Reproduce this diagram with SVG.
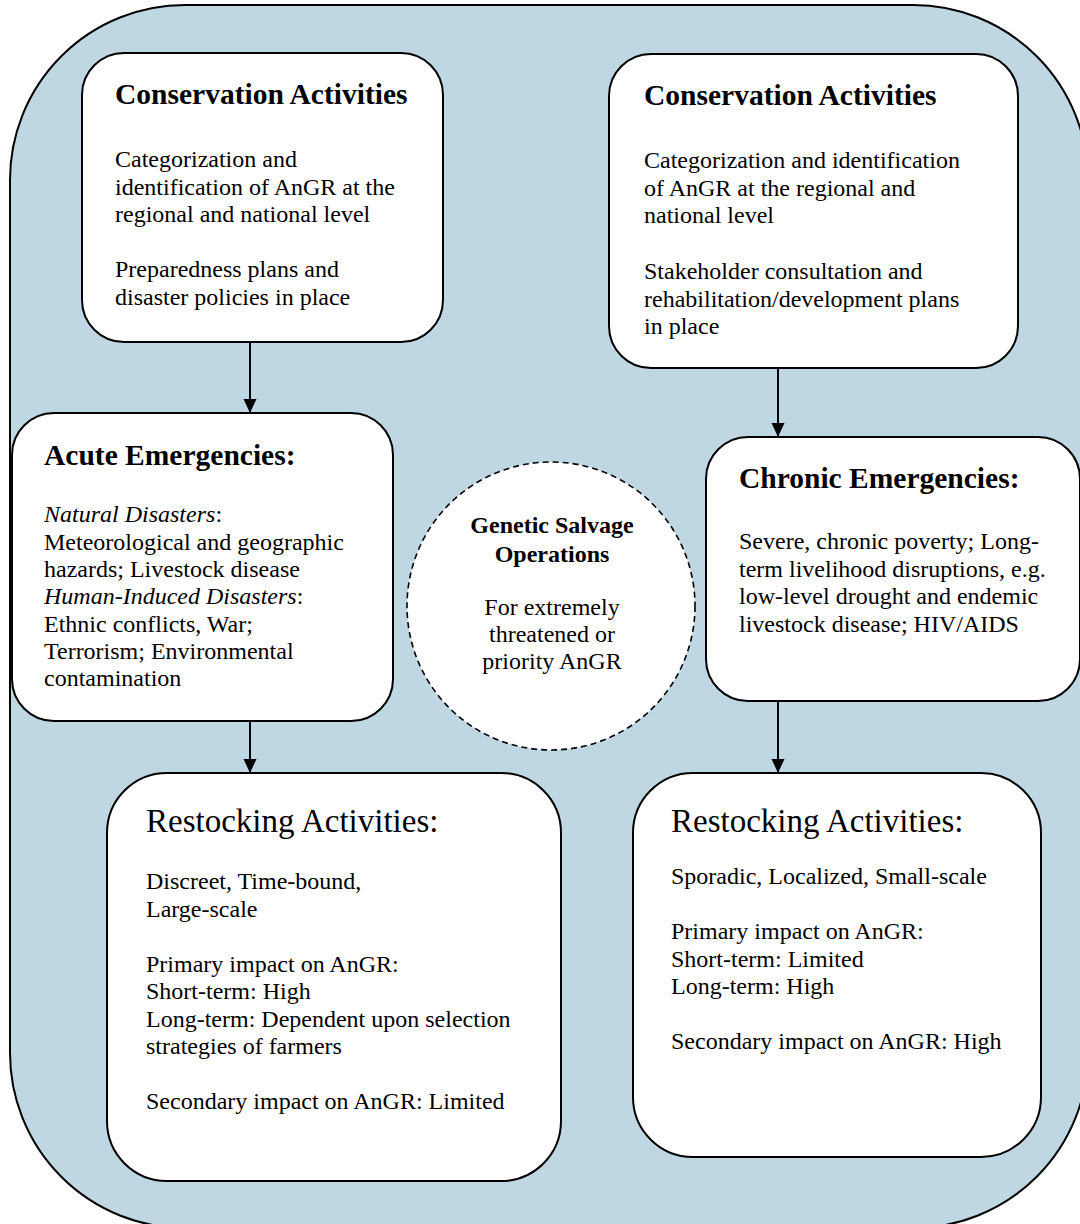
<svg xmlns="http://www.w3.org/2000/svg" width="1080" height="1224" viewBox="0 0 1080 1224">
  <defs>
    <style>
      text { font-family: "Liberation Serif", "Times New Roman", serif; fill: #000; }
      .frame { fill: #bfd7e2; stroke: #000; stroke-width: 2; }
      .box { fill: #fff; stroke: #000; stroke-width: 2; }
      .salvage { fill: #fff; stroke: #000; stroke-width: 1.6; stroke-dasharray: 6 4; }
      .head { font-size: 29.5px; font-weight: bold; }
      .head2 { font-size: 33px; }
      .body { font-size: 24px; }
      .bold { font-weight: bold; }
      .link { stroke: #000; stroke-width: 2; fill: none; marker-end: url(#arrow); }
    </style>
    <marker id="arrow" viewBox="0 0 14 14" refX="14" refY="7" markerWidth="14" markerHeight="14" markerUnits="userSpaceOnUse" orient="auto">
      <path d="M0,0.5 L14,7 L0,13.5 Z" fill="#000"/>
    </marker>
  </defs>

  <!-- background frame -->
  <rect class="frame" x="10" y="5" width="1078" height="1223" rx="175" ry="175"/>

  <!-- connectors -->
  <g id="connectors">
    <line class="link" x1="250" y1="342" x2="250" y2="413"/>
    <line class="link" x1="778" y1="368" x2="778" y2="437"/>
    <line class="link" x1="250" y1="721" x2="250" y2="773"/>
    <line class="link" x1="778" y1="701" x2="778" y2="773"/>
  </g>

  <g id="conservation-left">
    <rect class="box" x="82" y="53" width="361" height="289" rx="42" ry="42"/>
    <text class="head" x="115" y="104">Conservation Activities</text>
    <text class="body" x="115" y="167">Categorization and</text>
    <text class="body" x="115" y="194.5">identification of AnGR at the</text>
    <text class="body" x="115" y="222">regional and national level</text>
    <text class="body" x="115" y="277">Preparedness plans and</text>
    <text class="body" x="115" y="304.5">disaster policies in place</text>
  </g>

  <g id="conservation-right">
    <rect class="box" x="609" y="54" width="409" height="314" rx="42" ry="42"/>
    <text class="head" x="644" y="105">Conservation Activities</text>
    <text class="body" x="644" y="168">Categorization and identification</text>
    <text class="body" x="644" y="195.5">of AnGR at the regional and</text>
    <text class="body" x="644" y="223">national level</text>
    <text class="body" x="644" y="279">Stakeholder consultation and</text>
    <text class="body" x="644" y="306.5">rehabilitation/development plans</text>
    <text class="body" x="644" y="334">in place</text>
  </g>

  <g id="acute-emergencies">
    <rect class="box" x="12" y="413" width="381" height="308" rx="42" ry="42"/>
    <text class="head" x="44" y="465">Acute Emergencies:</text>
    <text class="body" x="44" y="522"><tspan font-style="italic">Natural Disasters</tspan>:</text>
    <text class="body" x="44" y="549.5">Meteorological and geographic</text>
    <text class="body" x="44" y="577">hazards; Livestock disease</text>
    <text class="body" x="44" y="604"><tspan font-style="italic">Human-Induced Disasters</tspan>:</text>
    <text class="body" x="44" y="631.5">Ethnic conflicts, War;</text>
    <text class="body" x="44" y="659">Terrorism; Environmental</text>
    <text class="body" x="44" y="686">contamination</text>
  </g>

  <g id="chronic-emergencies">
    <rect class="box" x="706" y="437" width="374" height="264" rx="42" ry="42"/>
    <text class="head" x="739" y="488">Chronic Emergencies:</text>
    <text class="body" x="739" y="549">Severe, chronic poverty; Long-</text>
    <text class="body" x="739" y="577">term livelihood disruptions, e.g.</text>
    <text class="body" x="739" y="604">low-level drought and endemic</text>
    <text class="body" x="739" y="632">livestock disease; HIV/AIDS</text>
  </g>

  <g id="genetic-salvage">
    <circle class="salvage" cx="551" cy="606" r="144"/>
    <text class="body bold" x="552" y="533" text-anchor="middle">Genetic Salvage</text>
    <text class="body bold" x="552" y="562" text-anchor="middle">Operations</text>
    <text class="body" x="552" y="615" text-anchor="middle">For extremely</text>
    <text class="body" x="552" y="642" text-anchor="middle">threatened or</text>
    <text class="body" x="552" y="669" text-anchor="middle">priority AnGR</text>
  </g>

  <g id="restocking-acute">
    <rect class="box" x="107" y="773" width="454" height="408" rx="60" ry="60"/>
    <text class="head2" x="146" y="832">Restocking Activities:</text>
    <text class="body" x="146" y="889">Discreet, Time-bound,</text>
    <text class="body" x="146" y="916.5">Large-scale</text>
    <text class="body" x="146" y="971.5">Primary impact on AnGR:</text>
    <text class="body" x="146" y="999">Short-term: High</text>
    <text class="body" x="146" y="1026.5">Long-term: Dependent upon selection</text>
    <text class="body" x="146" y="1054">strategies of farmers</text>
    <text class="body" x="146" y="1109">Secondary impact on AnGR: Limited</text>
  </g>

  <g id="restocking-chronic">
    <rect class="box" x="633" y="773" width="408" height="384" rx="60" ry="60"/>
    <text class="head2" x="671" y="832">Restocking Activities:</text>
    <text class="body" x="671" y="884">Sporadic, Localized, Small-scale</text>
    <text class="body" x="671" y="939">Primary impact on AnGR:</text>
    <text class="body" x="671" y="966.5">Short-term: Limited</text>
    <text class="body" x="671" y="994">Long-term: High</text>
    <text class="body" x="671" y="1049">Secondary impact on AnGR: High</text>
  </g>
</svg>
